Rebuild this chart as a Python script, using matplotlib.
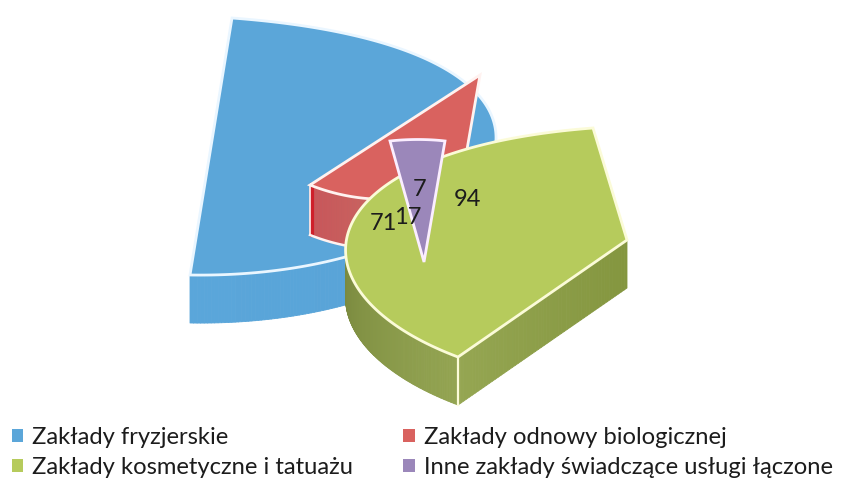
import numpy as np
import matplotlib
matplotlib.use('Agg')
import matplotlib.pyplot as plt
from matplotlib.collections import PolyCollection
from matplotlib.colors import to_rgb
from matplotlib.patches import Patch, Polygon

categories = ['Zakłady fryzjerskie', 'Zakłady odnowy biologicznej',
              'Zakłady kosmetyczne i tatuażu', 'Inne zakłady świadczące usługi łączone']
values = [71, 17, 94, 7]

# look of the pie
colors = ['#5ba6d9', '#d9625f', '#b6cb5c', '#9b87ba']
side_colors = [('#57a2d6', '#5aa6da'), ('#c8565a', '#c96560'), ('#74833a', '#93a451'), None]
edge_colors = ['#eaf6ff', '#fff2f0', '#fbfbd8', '#fbeeff']
depth = [48, 50, 48, 0]

# the picture is badly warped, so every slice gets its own pose on the page:
# apex, then the 4 bezier points the rim follows from first to last angle
poses = [
    ((190, 275), [(232, 18), (660, 50), (510, 280), (190, 275)]),
    ((480, 75), [(310, 185), (360, 205), (420, 205), (462, 178)]),
    ((627, 240), [(593, 128), (305, 150), (280, 290), (458, 357)]),
    ((424, 262), [(390, 141), (408, 139), (428, 139), (445, 141)]),
]
label_pos = [(383, 223), (408, 218), (467, 199), (420, 189)]
side_from = [0.62, 0.0, 0.52, 0.0]  # part of the rim that shows a side wall


def rim(pose, s):
    p = np.array(pose[1], dtype=float)
    s = s[:, None]
    return ((1 - s) ** 3 * p[0] + 3 * (1 - s) ** 2 * s * p[1]
            + 3 * (1 - s) * s ** 2 * p[2] + s ** 3 * p[3])


def wall(ax, line, h, c1, c2, z):
    # strip of quads under a line, shaded along its length
    c1, c2 = np.array(to_rgb(c1)), np.array(to_rgb(c2))
    quads, cols = [], []
    for i in range(len(line) - 1):
        a, b = line[i], line[i + 1]
        quads.append([a, b, b + (0, h), a + (0, h)])
        f = i / max(len(line) - 2, 1)
        cols.append(c1 + (c2 - c1) * f)
    ax.add_collection(PolyCollection(quads, facecolors=cols, edgecolors=cols, linewidths=0.6, zorder=z))


fig, ax = plt.subplots(figsize=(8.47, 4.8), dpi=100)
fig.subplots_adjust(0, 0, 1, 1)
ax.set_xlim(0, 847)
ax.set_ylim(480, 0)
ax.axis('off')

# slice angles from the values
shares = np.array(values) / sum(values)
ends = np.cumsum(shares) * 360
starts = ends - shares * 360

for i, pose in enumerate(poses):
    n = max(int(ends[i] - starts[i]), 12) * 2
    angles = np.linspace(starts[i], ends[i], n)
    s = (angles - starts[i]) / (ends[i] - starts[i])
    line = rim(pose, s)
    apex = np.array(pose[0], dtype=float)
    z = 2 + i * 2

    if depth[i]:
        shown = line[s >= side_from[i]]
        if i == 1:
            # red only shows its rim, up to where green covers it
            shown = line[s <= 0.45]
            wall(ax, shown, depth[i], side_colors[i][0], side_colors[i][1], z)
            # hot red front corner and pale outline of the wall
            ax.plot([shown[0][0] + 1.5] * 2, [shown[0][1], shown[0][1] + depth[i]],
                    color='#cf1f2b', lw=3, zorder=z + 0.2)
            ax.plot(shown[:, 0], shown[:, 1] + depth[i], color=edge_colors[i], lw=1.8, zorder=z + 0.3)
            ax.plot([shown[0][0]] * 2, [shown[0][1], shown[0][1] + depth[i]],
                    color=edge_colors[i], lw=1.2, zorder=z + 0.3)
        else:
            wall(ax, shown, depth[i], side_colors[i][0], side_colors[i][1], z)
        if i == 2:
            wall(ax, np.linspace(line[-1], apex, 60), depth[i], '#95a652', '#84963f', z)
            ax.plot([line[-1][0]] * 2, [line[-1][1], line[-1][1] + depth[i]],
                    color=edge_colors[i], lw=1.6, zorder=z + 0.5)

    ax.add_patch(Polygon(np.vstack([apex, line]), closed=True, facecolor=colors[i],
                         edgecolor=edge_colors[i], lw=2, joinstyle='miter', zorder=z + 1))

for v, (x, y) in zip(values, label_pos):
    ax.text(x, y, str(v), fontsize=17, family='Lato', color='#1c1c1c',
            ha='center', va='center', zorder=20)

handles = [Patch(facecolor=c, edgecolor='none') for c in colors]
order = [0, 2, 1, 3]
ax.legend([handles[i] for i in order], [categories[i] for i in order], ncol=2,
          loc='lower left', bbox_to_anchor=(-0.006, -0.03), frameon=False,
          prop={'family': 'Lato', 'size': 17.1}, labelcolor='#1c1c1c',
          handlelength=0.5, handleheight=0.5, handletextpad=0.38,
          columnspacing=2.1, labelspacing=0.38, borderpad=0.2)

fig.savefig('out.png', dpi=100)
